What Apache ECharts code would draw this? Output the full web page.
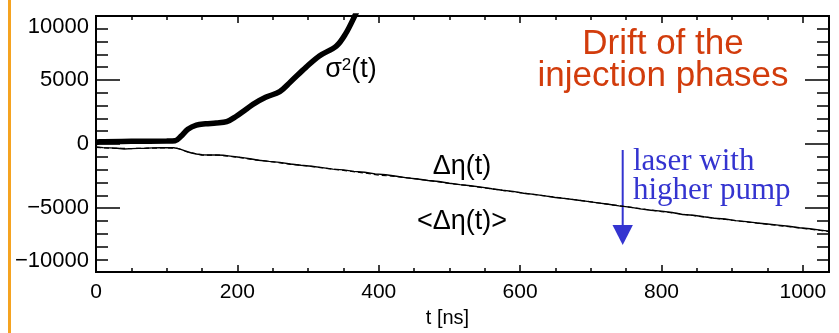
<!DOCTYPE html>
<html>
<head>
<meta charset="utf-8">
<script src="https://cdn.jsdelivr.net/npm/echarts@6/dist/echarts.min.js"></script>
<style>
html,body{margin:0;padding:0;background:#fff;}
#c{width:839px;height:333px;}
</style>
</head>
<body>
<div id="c"></div>
<script>
// ---- data (t in ns) ----
var xTickLabels = [0, 200, 400, 600, 800, 1000];
var yTickLabels = [-10000, -5000, 0, 5000, 10000];

var sigmaT = [0, 5, 50, 100, 112, 120, 130, 142, 155, 170, 185, 198, 212, 222, 240, 260, 275, 297, 316, 340, 353, 366, 374];
var sigmaV = [100, 180, 210, 230, 260, 600, 1150, 1480, 1580, 1640, 1750, 2150, 2700, 3100, 3650, 4100, 4850, 5990, 6880, 7650, 8600, 10000, 11000];

var etaT = [0, 10, 20, 30, 40, 50, 60, 70, 80, 90, 100, 110, 118, 126, 134, 142, 150, 160, 170, 180, 190, 200, 210, 220, 230, 245, 260, 275, 290, 305, 320, 335, 350, 365, 380, 395, 410, 425, 440, 455, 470, 485, 500, 515, 530, 545, 560, 575, 590, 605, 620, 635, 650, 665, 680, 695, 710, 725, 740, 755, 770, 785, 800, 815, 830, 845, 860, 875, 890, 905, 920, 935, 950, 965, 980, 995, 1010, 1025, 1037];
var etaV = [-230, -280, -300, -330, -390, -360, -340, -330, -300, -290, -280, -290, -380, -540, -680, -780, -840, -860, -850, -880, -940, -1010, -1080, -1170, -1260, -1350, -1430, -1560, -1660, -1730, -1840, -1960, -2020, -2130, -2200, -2330, -2400, -2510, -2640, -2730, -2850, -2920, -3060, -3170, -3260, -3360, -3490, -3610, -3700, -3840, -3930, -4050, -4170, -4260, -4370, -4480, -4590, -4700, -4830, -4930, -5060, -5170, -5240, -5350, -5500, -5560, -5680, -5790, -5850, -5980, -6060, -6160, -6240, -6330, -6420, -6540, -6620, -6720, -6800];

var meanT = [0, 25, 50, 75, 100, 115, 130, 150, 175, 200, 225, 250, 275, 300, 325, 350, 375, 400, 425, 450, 475, 500, 525, 550, 575, 600, 625, 650, 675, 700, 725, 750, 775, 800, 825, 850, 875, 900, 925, 950, 975, 1000, 1025, 1037];
var meanV = [-260, -330, -350, -320, -300, -330, -620, -860, -870, -1030, -1230, -1390, -1580, -1720, -1890, -2060, -2230, -2420, -2540, -2700, -2880, -3080, -3240, -3430, -3620, -3800, -3980, -4150, -4330, -4510, -4710, -4890, -5080, -5270, -5440, -5620, -5790, -5950, -6110, -6270, -6420, -6580, -6750, -6840];

function zip(a, b) { return a.map(function (v, i) { return [v, b[i]]; }); }

var chart = echarts.init(document.getElementById('c'), null, {renderer: 'canvas'});
var FONT = 'Liberation Sans';
var xMin = 0, xMax = 1037;

function xAx(pos, interval, tickLen, labels) {
  return {
    type: 'value', position: pos, min: xMin, max: xMax, interval: interval,
    axisLine: {show: true, onZero: false, lineStyle: {color: '#000', width: 2}},
    axisTick: {show: true, inside: true, length: tickLen, lineStyle: {color: '#000', width: 1.5}},
    splitLine: {show: false},
    axisLabel: labels ? {
      show: true, interval: 0, margin: 10, color: '#000', fontFamily: FONT, fontSize: 21,
      formatter: function (v) { return xTickLabels.indexOf(v) >= 0 ? String(v) : ''; }
    } : {show: false}
  };
}
function yAx(pos, labels) {
  return {
    type: 'value', position: pos, min: -10000, max: 10000, interval: 5000,
    axisLine: {show: true, onZero: false, lineStyle: {color: '#000', width: 2}},
    axisTick: {show: true, inside: true, length: 24, lineStyle: {color: '#000', width: 1.5}},
    minorTick: {show: true, splitNumber: 5, length: 12, lineStyle: {color: '#000', width: 1.5}},
    splitLine: {show: false}, minorSplitLine: {show: false},
    axisLabel: labels ? {
      show: true, margin: 7, color: '#000', fontFamily: FONT, fontSize: 22,
      verticalAlignMaxLabel: 'top', verticalAlignMinLabel: 'bottom',
      formatter: function (v) { return yTickLabels.indexOf(v) >= 0 ? (v < 0 ? '\u2212' + Math.abs(v) : String(v)) : ''; }
    } : {show: false}
  };
}

var xa0 = xAx('bottom', 50, 4, true);
xa0.name = 't [ns]';
xa0.nameLocation = 'middle';
xa0.nameGap = 32;
xa0.nameTextStyle = {color: '#000', fontFamily: FONT, fontSize: 20, padding: [0, 30, 0, 0]};

chart.setOption({
  animation: false,
  backgroundColor: '#fff',
  grid: {left: 96, right: 10, top: 16, bottom: 56, containLabel: false},
  xAxis: [xa0, xAx('bottom', 200, 7, false), xAx('top', 50, 4, false), xAx('top', 200, 7, false)],
  yAxis: [yAx('left', true), yAx('right', false)],
  series: [
    {type: 'line', name: 'sigma2', data: zip(sigmaT, sigmaV), xAxisIndex: 0, yAxisIndex: 0,
     showSymbol: false, smooth: 0.35, clip: true, z: 5,
     lineStyle: {color: '#000', width: 5.5}},
    {type: 'line', name: 'mean', data: zip(meanT, meanV), xAxisIndex: 0, yAxisIndex: 0,
     showSymbol: false, clip: true, z: 3,
     lineStyle: {color: '#000', width: 1.2, type: [5, 3]}},
    {type: 'line', name: 'eta', data: zip(etaT, etaV), xAxisIndex: 0, yAxisIndex: 0,
     showSymbol: false, clip: true, z: 4,
     lineStyle: {color: '#000', width: 1.4}}
  ],
  graphic: [
    {type: 'rect', shape: {x: 8, y: 0, width: 3, height: 333}, style: {fill: '#f5a320'}, silent: true},
    {type: 'text', x: 663, y: 29, style: {text: 'Drift of the\ninjection phases', fill: '#d23c0c',
      font: '35px "Liberation Sans"', align: 'center', verticalAlign: 'top', lineHeight: 31.6}},
    {type: 'text', x: 351, y: 70, style: {
      text: '{a|\u03c3}{s|2}{a|(t)}', align: 'center', verticalAlign: 'middle',
      rich: {a: {fontFamily: FONT, fontSize: 27, fill: '#000', color: '#000'},
             s: {fontFamily: FONT, fontSize: 17, fill: '#000', color: '#000', verticalAlign: 'top'}}}},
    {type: 'text', x: 462, y: 167, style: {text: '\u0394\u03b7(t)', fill: '#000',
      font: '27px "Liberation Sans"', align: 'center', verticalAlign: 'middle'}},
    {type: 'text', x: 462, y: 222, style: {text: '<\u0394\u03b7(t)>', fill: '#000',
      font: '27px "Liberation Sans"', align: 'center', verticalAlign: 'middle'}},
    {type: 'text', x: 633, y: 148, style: {text: 'laser with\nhigher pump', fill: '#3434d0',
      font: '31px "Liberation Serif"', align: 'left', verticalAlign: 'top', lineHeight: 28.4}},
    {type: 'line', shape: {x1: 622.7, y1: 150, x2: 622.7, y2: 228}, style: {stroke: '#3434d0', lineWidth: 2}},
    {type: 'polygon', shape: {points: [[612.5, 225], [632.9, 225], [622.7, 245]]}, style: {fill: '#3434d0'}}
  ]
});
</script>
</body>
</html>
